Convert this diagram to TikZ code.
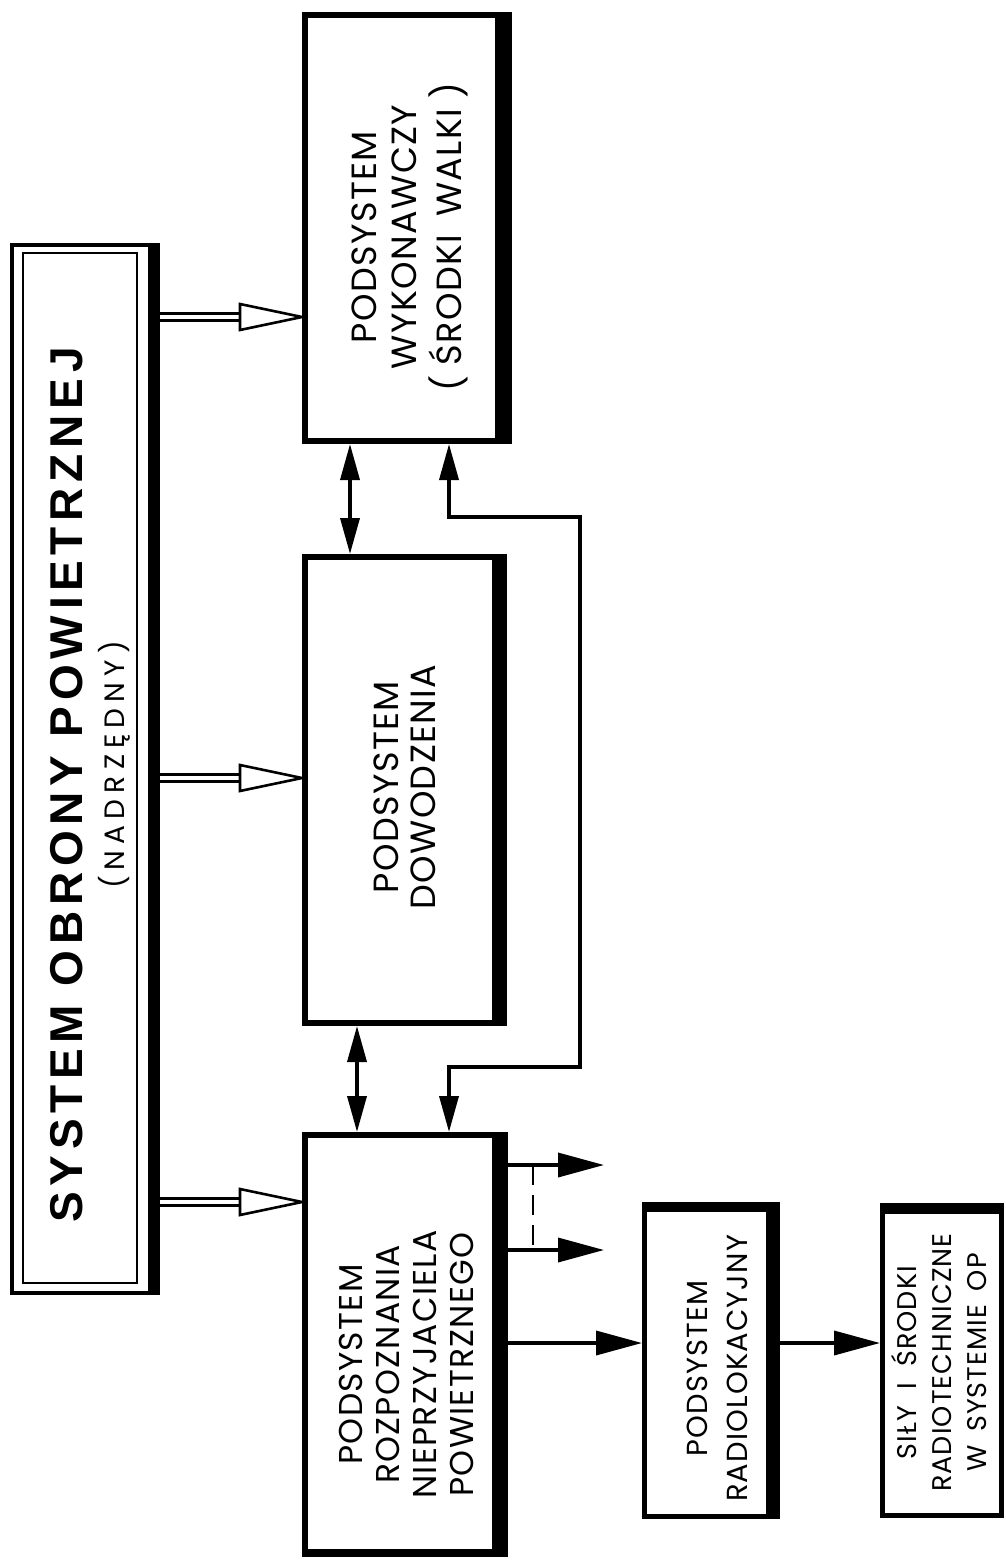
\documentclass[tikz,border=0pt]{standalone}
\usepackage{fontspec}
\usepackage{graphicx}
\setmainfont{Poppins}
\newfontfamily\titlefont{Liberation Sans}[LetterSpace=12.5]
\newfontfamily\nadrfont{Poppins}[LetterSpace=22]
\newfontfamily\boxfont{Poppins}[LetterSpace=4]
\usetikzlibrary{arrows.meta,calc}
\tikzset{
  box/.style={draw, rectangle, line width=6pt, inner sep=0pt},
  boxtxt/.style={inner sep=0pt},
  conn/.style={line width=3.6pt},
  vtip/.tip={Triangle[length=36pt,width=19pt]},
  htip/.tip={Triangle[length=46pt,width=24pt]},
}
\newcommand\hollowarr[2]{%
  \draw[line width=2.8pt, double=white, double distance=4pt] (#1) -- ($(#2)+(-62,0)$);
  \draw[line width=2.6pt, fill=white, line join=miter] ($(#2)+(-62,13)$) -- (#2) -- ($(#2)+(-62,-13)$) -- cycle;
}
\newcommand\vtext[1]{\rotatebox{90}{\begin{tabular}{@{}c@{}}#1\end{tabular}}}
\begin{document}
\begin{tikzpicture}[x=1pt,y=-1pt]
\useasboundingbox (0,0) rectangle (1005,1561);
\fill[white] (0,0) rectangle (1005,1561);

% ---- System box
\node[box, line width=4pt, minimum width=146pt, minimum height=1048pt] (sys) at (85,769) {};
\draw[line width=1.5pt] ($(sys.north west)+(13,10)$) rectangle ($(sys.south east)+(-23,-12)$);
\fill (sys.north east) rectangle ($(sys.south east)+(-12,0)$);
\node[rotate=90, inner sep=0pt, font=\titlefont\bfseries\fontsize{46}{50}\selectfont] (title) at (67,785) {SYSTEM OBRONY POWIETRZNEJ};
\node[rotate=90, inner sep=0pt, font=\nadrfont\fontsize{28}{32}\selectfont] (nadr) at (114,765) {(NADRZĘDNY)};

% ---- subsystem boxes
\node[box, minimum width=204pt, minimum height=426pt] (wyk) at (407,228) {};
\fill (wyk.north east) rectangle ($(wyk.south east)+(-17,0)$);
\node[box, minimum width=199pt, minimum height=466pt] (dow) at (404.5,790) {};
\fill (dow.north east) rectangle ($(dow.south east)+(-15,0)$);
\node[box, minimum width=200pt, minimum height=419pt] (rozp) at (405,1344.5) {};
\fill (rozp.north east) rectangle ($(rozp.south east)+(-16,0)$);
\fill (rozp.south west) rectangle ($(rozp.south east)+(0,-8)$);
\node[box, line width=5pt, minimum width=133pt, minimum height=312pt] (radio) at (711,1360.5) {};
\fill (radio.north east) rectangle ($(radio.south east)+(-14,0)$);
\fill (radio.north west) rectangle ($(radio.north east)+(0,10)$);
\node[box, line width=5pt, minimum width=119pt, minimum height=310pt] (sily) at (942,1360.5) {};
\fill (sily.north west) rectangle ($(sily.north east)+(0,11)$);

% ---- texts
\node[boxtxt, font=\boxfont\fontsize{35}{40}\selectfont] (wykt) at ($(wyk.center)+(4,9)$)
  {\vtext{PODSYSTEM\\WYKONAWCZY\\( ŚRODKI\hspace{0.5em}WALKI )}};
\node[boxtxt, font=\boxfont\fontsize{35}{37}\selectfont] (dowt) at ($(dow.center)+(5,-3)$)
  {\vtext{PODSYSTEM\\DOWODZENIA}};
\node[boxtxt, font=\boxfont\fontsize{33}{37}\selectfont] (rozpt) at ($(rozp.center)+(6,20)$)
  {\vtext{PODSYSTEM\\ROZPOZNANIA\\NIEPRZYJACIELA\\POWIETRZNEGO}};
\node[boxtxt, font=\boxfont\fontsize{29}{40}\selectfont] (radiot) at ($(radio.center)+(8,8)$)
  {\vtext{PODSYSTEM\\RADIOLOKACYJNY}};
\node[boxtxt, font=\boxfont\fontsize{27}{35}\selectfont] (silyt) at ($(sily.center)+(2,2)$)
  {\vtext{SIŁY\hspace{0.6em}I\hspace{0.6em}ŚRODKI\\RADIOTECHNICZNE\\W\hspace{0.5em}SYSTEMIE\hspace{0.5em}OP}};

% ---- hollow arrows from the system box
\hollowarr{sys.east |- 0,317}{wyk.west |- 0,317}
\hollowarr{sys.east |- 0,778}{dow.west |- 0,778}
\hollowarr{sys.east |- 0,1202}{rozp.west |- 0,1202}

% ---- vertical links
\draw[conn, vtip-vtip] (wyk.south -| 350,0) -- (dow.north -| 350,0);
\draw[conn, vtip-vtip] (dow.south -| 357,0) -- (rozp.north -| 357,0);
\coordinate (lp1) at (580,517);
\coordinate (lp2) at (449,1067);
\draw[conn, vtip-vtip] (wyk.south -| 449,0) |- (lp1) |- (lp2) -- (rozp.north -| lp2);

% ---- outputs of the recognition subsystem
\coordinate (o1) at (604,1165);
\coordinate (o2) at (604,1250);
\draw[conn, -htip] (rozp.east |- o1) -- (o1);
\draw[conn, -htip] (rozp.east |- o2) -- (o2);
\draw[line width=2pt, dash pattern=on 20pt off 10pt] (o1 -| 533,0) -- (o2 -| 533,0);
\draw[conn, -htip] (rozp.east |- 0,1343) -- (radio.west |- 0,1343);
\draw[conn, -htip] (radio.east |- 0,1343) -- (sily.west |- 0,1343);
\end{tikzpicture}
\end{document}
